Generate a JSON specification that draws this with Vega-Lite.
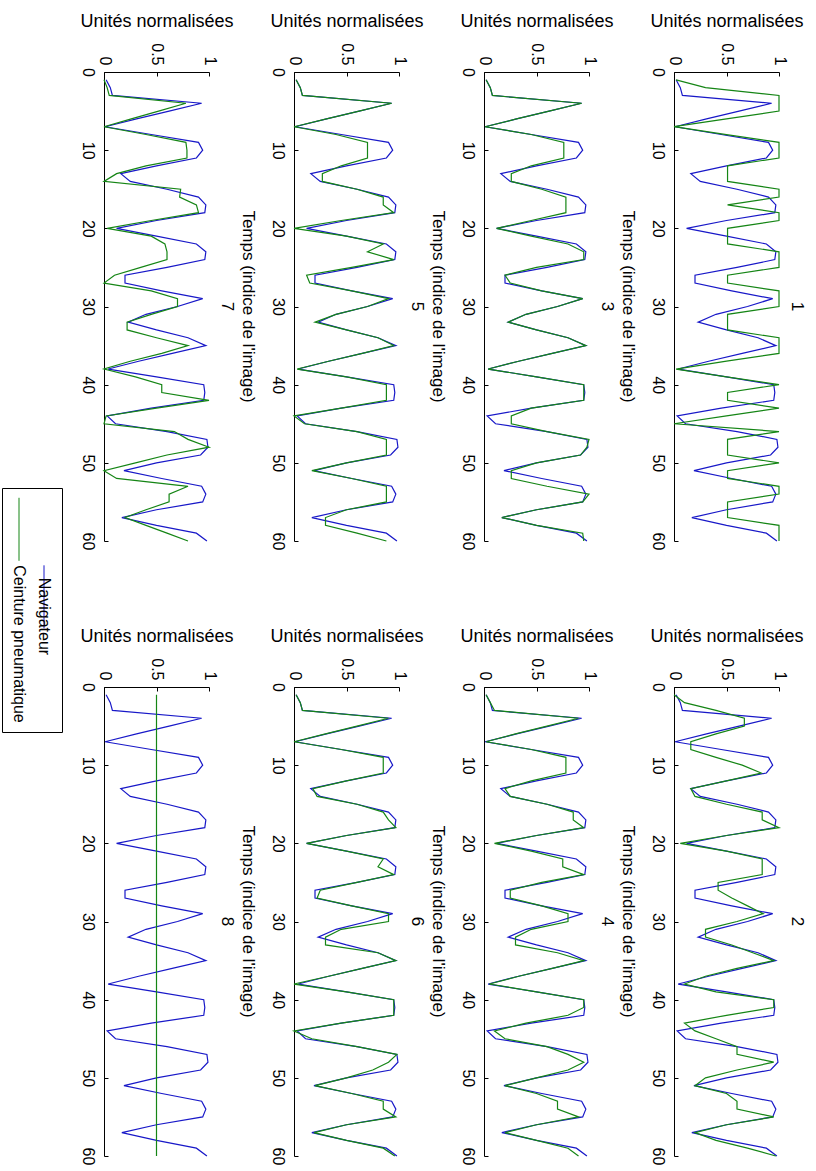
{
"$schema": "https://vega.github.io/schema/vega-lite/v6.json",
"padding": {"left": 1, "top": 12, "right": 0, "bottom": 0},
"background": "white",
"bounds": "flush",
"columns": 4,
"spacing": {"row": 146, "column": 85},
"config": {
 "view": {"stroke": null},
 "font": "Liberation Sans",
 "axis": {"domainColor": "black", "tickColor": "black", "labelColor": "black", "titleColor": "black", "grid": false, "labelFontSize": 16, "titleFontSize": 18, "titleFontWeight": "normal", "labelFont": "Liberation Sans", "titleFont": "Liberation Sans", "tickSize": -4, "domainWidth": 1, "tickWidth": 1, "labelOverlap": false, "labelFlush": false},
 "axisX": {"labelAngle": 90, "labelAlign": "right", "labelBaseline": "middle", "labelPadding": 11, "titlePadding": 12},
 "axisY": {"labelAngle": 90, "labelAlign": "center", "labelBaseline": "top", "labelPadding": 13},
 "title": {"fontSize": 17, "fontWeight": "normal", "font": "Liberation Sans", "color": "black", "orient": "right", "offset": -15, "lineHeight": 21}
},
"datasets": {
"d1": [{"t":1,"N":0.02,"C":0.02},{"t":2,"N":0.06,"C":0.3},{"t":3,"N":0.08,"C":1},{"t":4,"N":0.93,"C":1},{"t":5,"N":0.62,"C":1},{"t":6,"N":0.31,"C":0.5},{"t":7,"N":0.01,"C":0},{"t":8,"N":0.45,"C":0.5},{"t":9,"N":0.9,"C":1},{"t":10,"N":0.94,"C":1},{"t":11,"N":0.88,"C":1},{"t":12,"N":0.5,"C":0.51},{"t":13,"N":0.16,"C":0.51},{"t":14,"N":0.25,"C":0.51},{"t":15,"N":0.6,"C":1},{"t":16,"N":0.9,"C":1},{"t":17,"N":0.97,"C":0.51},{"t":18,"N":0.96,"C":1},{"t":19,"N":0.5,"C":1},{"t":20,"N":0.12,"C":0.51},{"t":21,"N":0.5,"C":0.51},{"t":22,"N":0.88,"C":0.51},{"t":23,"N":0.97,"C":1},{"t":24,"N":0.96,"C":1},{"t":25,"N":0.6,"C":1},{"t":26,"N":0.2,"C":0.51},{"t":27,"N":0.2,"C":0.51},{"t":28,"N":0.55,"C":1},{"t":29,"N":0.94,"C":1},{"t":30,"N":0.7,"C":1},{"t":31,"N":0.4,"C":0.51},{"t":32,"N":0.23,"C":0.51},{"t":33,"N":0.5,"C":0.51},{"t":34,"N":0.8,"C":1},{"t":35,"N":0.97,"C":1},{"t":36,"N":0.65,"C":1},{"t":37,"N":0.33,"C":0.5},{"t":38,"N":0.04,"C":0.02},{"t":39,"N":0.5,"C":0.5},{"t":40,"N":0.95,"C":1},{"t":41,"N":0.96,"C":0.51},{"t":42,"N":0.95,"C":0.51},{"t":43,"N":0.45,"C":1},{"t":44,"N":0.03,"C":0.5},{"t":45,"N":0.11,"C":0},{"t":46,"N":0.6,"C":1},{"t":47,"N":0.98,"C":0.51},{"t":48,"N":0.99,"C":0.51},{"t":49,"N":0.92,"C":0.51},{"t":50,"N":0.5,"C":1},{"t":51,"N":0.19,"C":0.51},{"t":52,"N":0.55,"C":0.51},{"t":53,"N":0.93,"C":1},{"t":54,"N":0.97,"C":1},{"t":55,"N":0.94,"C":0.51},{"t":56,"N":0.5,"C":0.51},{"t":57,"N":0.17,"C":0.51},{"t":58,"N":0.5,"C":1},{"t":59,"N":0.88,"C":1},{"t":60,"N":0.98,"C":1}],
"d2": [{"t":1,"N":0.02,"C":0},{"t":2,"N":0.06,"C":0.1},{"t":3,"N":0.08,"C":0.4},{"t":4,"N":0.93,"C":0.67},{"t":5,"N":0.62,"C":0.67},{"t":6,"N":0.31,"C":0.4},{"t":7,"N":0.01,"C":0.16},{"t":8,"N":0.45,"C":0.16},{"t":9,"N":0.9,"C":0.4},{"t":10,"N":0.94,"C":0.65},{"t":11,"N":0.88,"C":0.83},{"t":12,"N":0.5,"C":0.5},{"t":13,"N":0.16,"C":0.16},{"t":14,"N":0.25,"C":0.2},{"t":15,"N":0.6,"C":0.5},{"t":16,"N":0.9,"C":0.84},{"t":17,"N":0.97,"C":0.84},{"t":18,"N":0.96,"C":1},{"t":19,"N":0.5,"C":0.5},{"t":20,"N":0.12,"C":0.06},{"t":21,"N":0.5,"C":0.5},{"t":22,"N":0.88,"C":0.84},{"t":23,"N":0.97,"C":0.84},{"t":24,"N":0.96,"C":0.84},{"t":25,"N":0.6,"C":0.42},{"t":26,"N":0.2,"C":0.42},{"t":27,"N":0.2,"C":0.55},{"t":28,"N":0.55,"C":0.7},{"t":29,"N":0.94,"C":0.85},{"t":30,"N":0.7,"C":0.6},{"t":31,"N":0.4,"C":0.3},{"t":32,"N":0.23,"C":0.3},{"t":33,"N":0.5,"C":0.55},{"t":34,"N":0.8,"C":0.75},{"t":35,"N":0.97,"C":0.95},{"t":36,"N":0.65,"C":0.6},{"t":37,"N":0.33,"C":0.3},{"t":38,"N":0.04,"C":0.1},{"t":39,"N":0.5,"C":0.4},{"t":40,"N":0.95,"C":0.95},{"t":41,"N":0.96,"C":0.95},{"t":42,"N":0.95,"C":0.5},{"t":43,"N":0.45,"C":0.1},{"t":44,"N":0.03,"C":0.2},{"t":45,"N":0.11,"C":0.4},{"t":46,"N":0.6,"C":0.6},{"t":47,"N":0.98,"C":0.6},{"t":48,"N":0.99,"C":0.95},{"t":49,"N":0.92,"C":0.6},{"t":50,"N":0.5,"C":0.3},{"t":51,"N":0.19,"C":0.2},{"t":52,"N":0.55,"C":0.5},{"t":53,"N":0.93,"C":0.6},{"t":54,"N":0.97,"C":0.6},{"t":55,"N":0.94,"C":0.95},{"t":56,"N":0.5,"C":0.5},{"t":57,"N":0.17,"C":0.2},{"t":58,"N":0.5,"C":0.4},{"t":59,"N":0.88,"C":0.7},{"t":60,"N":0.98,"C":0.97}],
"d3": [{"t":1,"N":0.02,"C":0.02},{"t":2,"N":0.06,"C":0.06},{"t":3,"N":0.08,"C":0.08},{"t":4,"N":0.93,"C":0.93},{"t":5,"N":0.62,"C":0.62},{"t":6,"N":0.31,"C":0.31},{"t":7,"N":0.01,"C":0.01},{"t":8,"N":0.45,"C":0.45},{"t":9,"N":0.9,"C":0.76},{"t":10,"N":0.94,"C":0.76},{"t":11,"N":0.88,"C":0.76},{"t":12,"N":0.5,"C":0.45},{"t":13,"N":0.16,"C":0.26},{"t":14,"N":0.25,"C":0.26},{"t":15,"N":0.6,"C":0.55},{"t":16,"N":0.9,"C":0.78},{"t":17,"N":0.97,"C":0.78},{"t":18,"N":0.96,"C":0.78},{"t":19,"N":0.5,"C":0.45},{"t":20,"N":0.12,"C":0.12},{"t":21,"N":0.5,"C":0.45},{"t":22,"N":0.88,"C":0.8},{"t":23,"N":0.97,"C":0.95},{"t":24,"N":0.96,"C":0.95},{"t":25,"N":0.6,"C":0.5},{"t":26,"N":0.2,"C":0.2},{"t":27,"N":0.2,"C":0.25},{"t":28,"N":0.55,"C":0.55},{"t":29,"N":0.94,"C":0.94},{"t":30,"N":0.7,"C":0.7},{"t":31,"N":0.4,"C":0.4},{"t":32,"N":0.23,"C":0.23},{"t":33,"N":0.5,"C":0.5},{"t":34,"N":0.8,"C":0.8},{"t":35,"N":0.97,"C":0.97},{"t":36,"N":0.65,"C":0.65},{"t":37,"N":0.33,"C":0.33},{"t":38,"N":0.04,"C":0.04},{"t":39,"N":0.5,"C":0.5},{"t":40,"N":0.95,"C":0.95},{"t":41,"N":0.96,"C":0.95},{"t":42,"N":0.95,"C":0.95},{"t":43,"N":0.45,"C":0.45},{"t":44,"N":0.03,"C":0.26},{"t":45,"N":0.11,"C":0.26},{"t":46,"N":0.6,"C":0.6},{"t":47,"N":0.98,"C":1},{"t":48,"N":0.99,"C":0.98},{"t":49,"N":0.92,"C":0.92},{"t":50,"N":0.5,"C":0.5},{"t":51,"N":0.19,"C":0.26},{"t":52,"N":0.55,"C":0.26},{"t":53,"N":0.93,"C":0.6},{"t":54,"N":0.97,"C":1},{"t":55,"N":0.94,"C":0.94},{"t":56,"N":0.5,"C":0.5},{"t":57,"N":0.17,"C":0.17},{"t":58,"N":0.5,"C":0.5},{"t":59,"N":0.88,"C":0.94},{"t":60,"N":0.98,"C":0.95}],
"d4": [{"t":1,"N":0.02,"C":0.02},{"t":2,"N":0.06,"C":0.06},{"t":3,"N":0.08,"C":0.1},{"t":4,"N":0.93,"C":0.9},{"t":5,"N":0.62,"C":0.6},{"t":6,"N":0.31,"C":0.3},{"t":7,"N":0.01,"C":0.02},{"t":8,"N":0.45,"C":0.45},{"t":9,"N":0.9,"C":0.78},{"t":10,"N":0.94,"C":0.78},{"t":11,"N":0.88,"C":0.78},{"t":12,"N":0.5,"C":0.45},{"t":13,"N":0.16,"C":0.2},{"t":14,"N":0.25,"C":0.25},{"t":15,"N":0.6,"C":0.6},{"t":16,"N":0.9,"C":0.85},{"t":17,"N":0.97,"C":0.85},{"t":18,"N":0.96,"C":0.95},{"t":19,"N":0.5,"C":0.5},{"t":20,"N":0.12,"C":0.1},{"t":21,"N":0.5,"C":0.45},{"t":22,"N":0.88,"C":0.75},{"t":23,"N":0.97,"C":0.75},{"t":24,"N":0.96,"C":0.95},{"t":25,"N":0.6,"C":0.55},{"t":26,"N":0.2,"C":0.25},{"t":27,"N":0.2,"C":0.25},{"t":28,"N":0.55,"C":0.55},{"t":29,"N":0.94,"C":0.8},{"t":30,"N":0.7,"C":0.8},{"t":31,"N":0.4,"C":0.45},{"t":32,"N":0.23,"C":0.3},{"t":33,"N":0.5,"C":0.3},{"t":34,"N":0.8,"C":0.7},{"t":35,"N":0.97,"C":0.95},{"t":36,"N":0.65,"C":0.65},{"t":37,"N":0.33,"C":0.33},{"t":38,"N":0.04,"C":0.05},{"t":39,"N":0.5,"C":0.5},{"t":40,"N":0.95,"C":0.95},{"t":41,"N":0.96,"C":0.95},{"t":42,"N":0.95,"C":0.8},{"t":43,"N":0.45,"C":0.4},{"t":44,"N":0.03,"C":0.1},{"t":45,"N":0.11,"C":0.2},{"t":46,"N":0.6,"C":0.6},{"t":47,"N":0.98,"C":0.8},{"t":48,"N":0.99,"C":0.95},{"t":49,"N":0.92,"C":0.8},{"t":50,"N":0.5,"C":0.5},{"t":51,"N":0.19,"C":0.2},{"t":52,"N":0.55,"C":0.5},{"t":53,"N":0.93,"C":0.7},{"t":54,"N":0.97,"C":0.7},{"t":55,"N":0.94,"C":0.9},{"t":56,"N":0.5,"C":0.5},{"t":57,"N":0.17,"C":0.2},{"t":58,"N":0.5,"C":0.5},{"t":59,"N":0.88,"C":0.8},{"t":60,"N":0.98,"C":0.9}],
"d5": [{"t":1,"N":0.02,"C":0.02},{"t":2,"N":0.06,"C":0.06},{"t":3,"N":0.08,"C":0.08},{"t":4,"N":0.93,"C":0.93},{"t":5,"N":0.62,"C":0.62},{"t":6,"N":0.31,"C":0.31},{"t":7,"N":0.01,"C":0},{"t":8,"N":0.45,"C":0.4},{"t":9,"N":0.9,"C":0.7},{"t":10,"N":0.94,"C":0.7},{"t":11,"N":0.88,"C":0.7},{"t":12,"N":0.5,"C":0.45},{"t":13,"N":0.16,"C":0.27},{"t":14,"N":0.25,"C":0.27},{"t":15,"N":0.6,"C":0.6},{"t":16,"N":0.9,"C":0.85},{"t":17,"N":0.97,"C":0.85},{"t":18,"N":0.96,"C":0.95},{"t":19,"N":0.5,"C":0.45},{"t":20,"N":0.12,"C":0},{"t":21,"N":0.5,"C":0.5},{"t":22,"N":0.88,"C":0.85},{"t":23,"N":0.97,"C":0.7},{"t":24,"N":0.96,"C":0.95},{"t":25,"N":0.6,"C":0.55},{"t":26,"N":0.2,"C":0.12},{"t":27,"N":0.2,"C":0.15},{"t":28,"N":0.55,"C":0.55},{"t":29,"N":0.94,"C":0.9},{"t":30,"N":0.7,"C":0.7},{"t":31,"N":0.4,"C":0.4},{"t":32,"N":0.23,"C":0.2},{"t":33,"N":0.5,"C":0.5},{"t":34,"N":0.8,"C":0.8},{"t":35,"N":0.97,"C":0.95},{"t":36,"N":0.65,"C":0.65},{"t":37,"N":0.33,"C":0.33},{"t":38,"N":0.04,"C":0.03},{"t":39,"N":0.5,"C":0.5},{"t":40,"N":0.95,"C":0.88},{"t":41,"N":0.96,"C":0.88},{"t":42,"N":0.95,"C":0.88},{"t":43,"N":0.45,"C":0.45},{"t":44,"N":0.03,"C":0},{"t":45,"N":0.11,"C":0.1},{"t":46,"N":0.6,"C":0.6},{"t":47,"N":0.98,"C":0.88},{"t":48,"N":0.99,"C":0.88},{"t":49,"N":0.92,"C":0.88},{"t":50,"N":0.5,"C":0.5},{"t":51,"N":0.19,"C":0.17},{"t":52,"N":0.55,"C":0.55},{"t":53,"N":0.93,"C":0.88},{"t":54,"N":0.97,"C":0.88},{"t":55,"N":0.94,"C":0.88},{"t":56,"N":0.5,"C":0.5},{"t":57,"N":0.17,"C":0.3},{"t":58,"N":0.5,"C":0.3},{"t":59,"N":0.88,"C":0.6},{"t":60,"N":0.98,"C":0.88}],
"d6": [{"t":1,"N":0.02,"C":0.02},{"t":2,"N":0.06,"C":0.06},{"t":3,"N":0.08,"C":0.08},{"t":4,"N":0.93,"C":0.9},{"t":5,"N":0.62,"C":0.6},{"t":6,"N":0.31,"C":0.3},{"t":7,"N":0.01,"C":0},{"t":8,"N":0.45,"C":0.45},{"t":9,"N":0.9,"C":0.85},{"t":10,"N":0.94,"C":0.85},{"t":11,"N":0.88,"C":0.85},{"t":12,"N":0.5,"C":0.5},{"t":13,"N":0.16,"C":0.18},{"t":14,"N":0.25,"C":0.22},{"t":15,"N":0.6,"C":0.6},{"t":16,"N":0.9,"C":0.85},{"t":17,"N":0.97,"C":0.9},{"t":18,"N":0.96,"C":0.97},{"t":19,"N":0.5,"C":0.5},{"t":20,"N":0.12,"C":0.12},{"t":21,"N":0.5,"C":0.5},{"t":22,"N":0.88,"C":0.85},{"t":23,"N":0.97,"C":0.8},{"t":24,"N":0.96,"C":0.95},{"t":25,"N":0.6,"C":0.6},{"t":26,"N":0.2,"C":0.25},{"t":27,"N":0.2,"C":0.22},{"t":28,"N":0.55,"C":0.55},{"t":29,"N":0.94,"C":0.9},{"t":30,"N":0.7,"C":0.9},{"t":31,"N":0.4,"C":0.45},{"t":32,"N":0.23,"C":0.3},{"t":33,"N":0.5,"C":0.3},{"t":34,"N":0.8,"C":0.8},{"t":35,"N":0.97,"C":0.97},{"t":36,"N":0.65,"C":0.65},{"t":37,"N":0.33,"C":0.33},{"t":38,"N":0.04,"C":0},{"t":39,"N":0.5,"C":0.5},{"t":40,"N":0.95,"C":0.95},{"t":41,"N":0.96,"C":0.95},{"t":42,"N":0.95,"C":0.95},{"t":43,"N":0.45,"C":0.45},{"t":44,"N":0.03,"C":0},{"t":45,"N":0.11,"C":0.17},{"t":46,"N":0.6,"C":0.6},{"t":47,"N":0.98,"C":0.98},{"t":48,"N":0.99,"C":0.9},{"t":49,"N":0.92,"C":0.75},{"t":50,"N":0.5,"C":0.5},{"t":51,"N":0.19,"C":0.2},{"t":52,"N":0.55,"C":0.55},{"t":53,"N":0.93,"C":0.85},{"t":54,"N":0.97,"C":0.85},{"t":55,"N":0.94,"C":0.97},{"t":56,"N":0.5,"C":0.5},{"t":57,"N":0.17,"C":0.19},{"t":58,"N":0.5,"C":0.5},{"t":59,"N":0.88,"C":0.85},{"t":60,"N":0.98,"C":0.96}],
"d7": [{"t":1,"N":0.02,"C":0},{"t":2,"N":0.06,"C":0.03},{"t":3,"N":0.08,"C":0.05},{"t":4,"N":0.93,"C":0.78},{"t":5,"N":0.62,"C":0.52},{"t":6,"N":0.31,"C":0.26},{"t":7,"N":0.01,"C":0},{"t":8,"N":0.45,"C":0.4},{"t":9,"N":0.9,"C":0.78},{"t":10,"N":0.94,"C":0.79},{"t":11,"N":0.88,"C":0.79},{"t":12,"N":0.5,"C":0.4},{"t":13,"N":0.16,"C":0.12},{"t":14,"N":0.25,"C":0},{"t":15,"N":0.6,"C":0.73},{"t":16,"N":0.9,"C":0.72},{"t":17,"N":0.97,"C":0.88},{"t":18,"N":0.96,"C":0.9},{"t":19,"N":0.5,"C":0.45},{"t":20,"N":0.12,"C":0.03},{"t":21,"N":0.5,"C":0.45},{"t":22,"N":0.88,"C":0.58},{"t":23,"N":0.97,"C":0.6},{"t":24,"N":0.96,"C":0.6},{"t":25,"N":0.6,"C":0.35},{"t":26,"N":0.2,"C":0.1},{"t":27,"N":0.2,"C":0},{"t":28,"N":0.55,"C":0.45},{"t":29,"N":0.94,"C":0.7},{"t":30,"N":0.7,"C":0.7},{"t":31,"N":0.4,"C":0.45},{"t":32,"N":0.23,"C":0.22},{"t":33,"N":0.5,"C":0.22},{"t":34,"N":0.8,"C":0.5},{"t":35,"N":0.97,"C":0.8},{"t":36,"N":0.65,"C":0.55},{"t":37,"N":0.33,"C":0.25},{"t":38,"N":0.04,"C":0},{"t":39,"N":0.5,"C":0.3},{"t":40,"N":0.95,"C":0.55},{"t":41,"N":0.96,"C":0.55},{"t":42,"N":0.95,"C":1},{"t":43,"N":0.45,"C":0.5},{"t":44,"N":0.03,"C":0.02},{"t":45,"N":0.11,"C":0},{"t":46,"N":0.6,"C":0.67},{"t":47,"N":0.98,"C":0.8},{"t":48,"N":0.99,"C":1},{"t":49,"N":0.92,"C":0.6},{"t":50,"N":0.5,"C":0.3},{"t":51,"N":0.19,"C":0},{"t":52,"N":0.55,"C":0.12},{"t":53,"N":0.93,"C":0.8},{"t":54,"N":0.97,"C":0.62},{"t":55,"N":0.94,"C":0.62},{"t":56,"N":0.5,"C":0.4},{"t":57,"N":0.17,"C":0.2},{"t":58,"N":0.5,"C":0.4},{"t":59,"N":0.88,"C":0.6},{"t":60,"N":0.98,"C":0.8}],
"d8": [{"t":1,"N":0.02,"C":0.5},{"t":2,"N":0.06,"C":0.5},{"t":3,"N":0.08,"C":0.5},{"t":4,"N":0.93,"C":0.5},{"t":5,"N":0.62,"C":0.5},{"t":6,"N":0.31,"C":0.5},{"t":7,"N":0.01,"C":0.5},{"t":8,"N":0.45,"C":0.5},{"t":9,"N":0.9,"C":0.5},{"t":10,"N":0.94,"C":0.5},{"t":11,"N":0.88,"C":0.5},{"t":12,"N":0.5,"C":0.5},{"t":13,"N":0.16,"C":0.5},{"t":14,"N":0.25,"C":0.5},{"t":15,"N":0.6,"C":0.5},{"t":16,"N":0.9,"C":0.5},{"t":17,"N":0.97,"C":0.5},{"t":18,"N":0.96,"C":0.5},{"t":19,"N":0.5,"C":0.5},{"t":20,"N":0.12,"C":0.5},{"t":21,"N":0.5,"C":0.5},{"t":22,"N":0.88,"C":0.5},{"t":23,"N":0.97,"C":0.5},{"t":24,"N":0.96,"C":0.5},{"t":25,"N":0.6,"C":0.5},{"t":26,"N":0.2,"C":0.5},{"t":27,"N":0.2,"C":0.5},{"t":28,"N":0.55,"C":0.5},{"t":29,"N":0.94,"C":0.5},{"t":30,"N":0.7,"C":0.5},{"t":31,"N":0.4,"C":0.5},{"t":32,"N":0.23,"C":0.5},{"t":33,"N":0.5,"C":0.5},{"t":34,"N":0.8,"C":0.5},{"t":35,"N":0.97,"C":0.5},{"t":36,"N":0.65,"C":0.5},{"t":37,"N":0.33,"C":0.5},{"t":38,"N":0.04,"C":0.5},{"t":39,"N":0.5,"C":0.5},{"t":40,"N":0.95,"C":0.5},{"t":41,"N":0.96,"C":0.5},{"t":42,"N":0.95,"C":0.5},{"t":43,"N":0.45,"C":0.5},{"t":44,"N":0.03,"C":0.5},{"t":45,"N":0.11,"C":0.5},{"t":46,"N":0.6,"C":0.5},{"t":47,"N":0.98,"C":0.5},{"t":48,"N":0.99,"C":0.5},{"t":49,"N":0.92,"C":0.5},{"t":50,"N":0.5,"C":0.5},{"t":51,"N":0.19,"C":0.5},{"t":52,"N":0.55,"C":0.5},{"t":53,"N":0.93,"C":0.5},{"t":54,"N":0.97,"C":0.5},{"t":55,"N":0.94,"C":0.5},{"t":56,"N":0.5,"C":0.5},{"t":57,"N":0.17,"C":0.5},{"t":58,"N":0.5,"C":0.5},{"t":59,"N":0.88,"C":0.5},{"t":60,"N":0.98,"C":0.5}]
},
"concat": [
  {"width": 105, "height": 469, "data": {"name": "d7"}, "title": {"text": ["Temps (indice de l'image)", "7"]},
   "encoding": {"y": {"field": "t", "type": "quantitative", "scale": {"domain": [0, 60], "reverse": true, "nice": false, "zero": false}, "axis": {"orient": "left", "values": [0,10,20,30,40,50,60], "title": null}}, "order": {"field": "t", "type": "quantitative"}},
   "layer": [
    {"mark": {"type": "line", "strokeWidth": 1.2}, "encoding": {"x": {"field": "N", "type": "quantitative", "scale": {"domain": [0, 1], "nice": false}, "axis": {"orient": "top", "values": [0, 0.5, 1], "format": "~g", "title": "Unités normalisées"}}, "color": {"datum": "Navigateur", "type": "nominal", "scale": {"domain": ["Ceinture pneumatique", "Navigateur"], "range": ["#158515", "#1818c8"]}, "legend": {"orient": "none", "legendX": -102, "legendY": 416, "direction": "horizontal", "title": null, "symbolType": "stroke", "symbolSize": 3969, "symbolStrokeWidth": 1, "labelFontSize": 16, "labelFont": "Liberation Sans", "labelColor": "black", "labelOffset": 0, "columnPadding": 8, "padding": 9, "strokeColor": "black", "fillColor": "white", "labelLimit": 0, "encode": {"symbols": {"update": {"angle": {"value": 90}, "x": {"value": 8}}}, "labels": {"update": {"angle": {"value": 90}, "align": {"value": "left"}, "baseline": {"value": "middle"}, "dx": {"signal": "datum.label === 'Navigateur' ? -19 : 36"}, "dy": {"value": 56}}}}}}}},
    {"mark": {"type": "line", "strokeWidth": 1.2}, "encoding": {"x": {"field": "C", "type": "quantitative", "scale": {"domain": [0, 1], "nice": false}, "axis": {"orient": "top", "values": [0, 0.5, 1], "format": "~g", "title": "Unités normalisées"}}, "color": {"datum": "Ceinture pneumatique", "type": "nominal"}}}
   ]},
  {"width": 105, "height": 469, "data": {"name": "d5"}, "title": {"text": ["Temps (indice de l'image)", "5"]},
   "encoding": {"y": {"field": "t", "type": "quantitative", "scale": {"domain": [0, 60], "reverse": true, "nice": false, "zero": false}, "axis": {"orient": "left", "values": [0,10,20,30,40,50,60], "title": null}}, "order": {"field": "t", "type": "quantitative"}},
   "layer": [
    {"mark": {"type": "line", "strokeWidth": 1.2}, "encoding": {"x": {"field": "N", "type": "quantitative", "scale": {"domain": [0, 1], "nice": false}, "axis": {"orient": "top", "values": [0, 0.5, 1], "format": "~g", "title": "Unités normalisées"}}, "color": {"datum": "Navigateur", "type": "nominal", "legend": null}}},
    {"mark": {"type": "line", "strokeWidth": 1.2}, "encoding": {"x": {"field": "C", "type": "quantitative", "scale": {"domain": [0, 1], "nice": false}, "axis": {"orient": "top", "values": [0, 0.5, 1], "format": "~g", "title": "Unités normalisées"}}, "color": {"datum": "Ceinture pneumatique", "type": "nominal", "legend": null}}}
   ]},
  {"width": 105, "height": 469, "data": {"name": "d3"}, "title": {"text": ["Temps (indice de l'image)", "3"]},
   "encoding": {"y": {"field": "t", "type": "quantitative", "scale": {"domain": [0, 60], "reverse": true, "nice": false, "zero": false}, "axis": {"orient": "left", "values": [0,10,20,30,40,50,60], "title": null}}, "order": {"field": "t", "type": "quantitative"}},
   "layer": [
    {"mark": {"type": "line", "strokeWidth": 1.2}, "encoding": {"x": {"field": "N", "type": "quantitative", "scale": {"domain": [0, 1], "nice": false}, "axis": {"orient": "top", "values": [0, 0.5, 1], "format": "~g", "title": "Unités normalisées"}}, "color": {"datum": "Navigateur", "type": "nominal", "legend": null}}},
    {"mark": {"type": "line", "strokeWidth": 1.2}, "encoding": {"x": {"field": "C", "type": "quantitative", "scale": {"domain": [0, 1], "nice": false}, "axis": {"orient": "top", "values": [0, 0.5, 1], "format": "~g", "title": "Unités normalisées"}}, "color": {"datum": "Ceinture pneumatique", "type": "nominal", "legend": null}}}
   ]},
  {"width": 105, "height": 469, "data": {"name": "d1"}, "title": {"text": [" ", "1"]},
   "encoding": {"y": {"field": "t", "type": "quantitative", "scale": {"domain": [0, 60], "reverse": true, "nice": false, "zero": false}, "axis": {"orient": "left", "values": [0,10,20,30,40,50,60], "title": null}}, "order": {"field": "t", "type": "quantitative"}},
   "layer": [
    {"mark": {"type": "line", "strokeWidth": 1.2}, "encoding": {"x": {"field": "N", "type": "quantitative", "scale": {"domain": [0, 1], "nice": false}, "axis": {"orient": "top", "values": [0, 0.5, 1], "format": "~g", "title": "Unités normalisées"}}, "color": {"datum": "Navigateur", "type": "nominal", "legend": null}}},
    {"mark": {"type": "line", "strokeWidth": 1.2}, "encoding": {"x": {"field": "C", "type": "quantitative", "scale": {"domain": [0, 1], "nice": false}, "axis": {"orient": "top", "values": [0, 0.5, 1], "format": "~g", "title": "Unités normalisées"}}, "color": {"datum": "Ceinture pneumatique", "type": "nominal", "legend": null}}}
   ]},
  {"width": 105, "height": 469, "data": {"name": "d8"}, "title": {"text": ["Temps (indice de l'image)", "8"]},
   "encoding": {"y": {"field": "t", "type": "quantitative", "scale": {"domain": [0, 60], "reverse": true, "nice": false, "zero": false}, "axis": {"orient": "left", "values": [0,10,20,30,40,50,60], "title": null}}, "order": {"field": "t", "type": "quantitative"}},
   "layer": [
    {"mark": {"type": "line", "strokeWidth": 1.2}, "encoding": {"x": {"field": "N", "type": "quantitative", "scale": {"domain": [0, 1], "nice": false}, "axis": {"orient": "top", "values": [0, 0.5, 1], "format": "~g", "title": "Unités normalisées"}}, "color": {"datum": "Navigateur", "type": "nominal", "legend": null}}},
    {"mark": {"type": "line", "strokeWidth": 1.2}, "encoding": {"x": {"field": "C", "type": "quantitative", "scale": {"domain": [0, 1], "nice": false}, "axis": {"orient": "top", "values": [0, 0.5, 1], "format": "~g", "title": "Unités normalisées"}}, "color": {"datum": "Ceinture pneumatique", "type": "nominal", "legend": null}}}
   ]},
  {"width": 105, "height": 469, "data": {"name": "d6"}, "title": {"text": ["Temps (indice de l'image)", "6"]},
   "encoding": {"y": {"field": "t", "type": "quantitative", "scale": {"domain": [0, 60], "reverse": true, "nice": false, "zero": false}, "axis": {"orient": "left", "values": [0,10,20,30,40,50,60], "title": null}}, "order": {"field": "t", "type": "quantitative"}},
   "layer": [
    {"mark": {"type": "line", "strokeWidth": 1.2}, "encoding": {"x": {"field": "N", "type": "quantitative", "scale": {"domain": [0, 1], "nice": false}, "axis": {"orient": "top", "values": [0, 0.5, 1], "format": "~g", "title": "Unités normalisées"}}, "color": {"datum": "Navigateur", "type": "nominal", "legend": null}}},
    {"mark": {"type": "line", "strokeWidth": 1.2}, "encoding": {"x": {"field": "C", "type": "quantitative", "scale": {"domain": [0, 1], "nice": false}, "axis": {"orient": "top", "values": [0, 0.5, 1], "format": "~g", "title": "Unités normalisées"}}, "color": {"datum": "Ceinture pneumatique", "type": "nominal", "legend": null}}}
   ]},
  {"width": 105, "height": 469, "data": {"name": "d4"}, "title": {"text": ["Temps (indice de l'image)", "4"]},
   "encoding": {"y": {"field": "t", "type": "quantitative", "scale": {"domain": [0, 60], "reverse": true, "nice": false, "zero": false}, "axis": {"orient": "left", "values": [0,10,20,30,40,50,60], "title": null}}, "order": {"field": "t", "type": "quantitative"}},
   "layer": [
    {"mark": {"type": "line", "strokeWidth": 1.2}, "encoding": {"x": {"field": "N", "type": "quantitative", "scale": {"domain": [0, 1], "nice": false}, "axis": {"orient": "top", "values": [0, 0.5, 1], "format": "~g", "title": "Unités normalisées"}}, "color": {"datum": "Navigateur", "type": "nominal", "legend": null}}},
    {"mark": {"type": "line", "strokeWidth": 1.2}, "encoding": {"x": {"field": "C", "type": "quantitative", "scale": {"domain": [0, 1], "nice": false}, "axis": {"orient": "top", "values": [0, 0.5, 1], "format": "~g", "title": "Unités normalisées"}}, "color": {"datum": "Ceinture pneumatique", "type": "nominal", "legend": null}}}
   ]},
  {"width": 105, "height": 469, "data": {"name": "d2"}, "title": {"text": [" ", "2"]},
   "encoding": {"y": {"field": "t", "type": "quantitative", "scale": {"domain": [0, 60], "reverse": true, "nice": false, "zero": false}, "axis": {"orient": "left", "values": [0,10,20,30,40,50,60], "title": null}}, "order": {"field": "t", "type": "quantitative"}},
   "layer": [
    {"mark": {"type": "line", "strokeWidth": 1.2}, "encoding": {"x": {"field": "N", "type": "quantitative", "scale": {"domain": [0, 1], "nice": false}, "axis": {"orient": "top", "values": [0, 0.5, 1], "format": "~g", "title": "Unités normalisées"}}, "color": {"datum": "Navigateur", "type": "nominal", "legend": null}}},
    {"mark": {"type": "line", "strokeWidth": 1.2}, "encoding": {"x": {"field": "C", "type": "quantitative", "scale": {"domain": [0, 1], "nice": false}, "axis": {"orient": "top", "values": [0, 0.5, 1], "format": "~g", "title": "Unités normalisées"}}, "color": {"datum": "Ceinture pneumatique", "type": "nominal", "legend": null}}}
   ]}
]
}
